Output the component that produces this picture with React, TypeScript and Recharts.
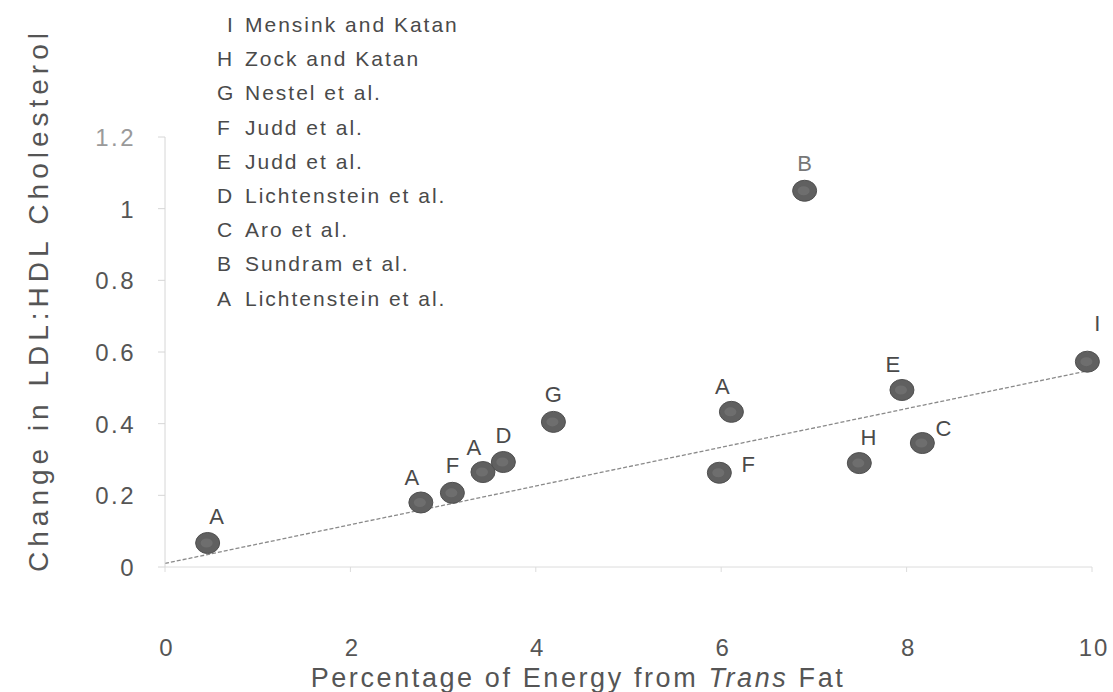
import { ScatterChart, Scatter, XAxis, YAxis, ReferenceLine, Legend } from 'recharts'

// study code for each point, in x order
const studyCodes = ['A', 'A', 'F', 'A', 'D', 'G', 'F', 'A', 'B', 'H', 'E', 'C', 'I']
const transEnergy = [0.46, 2.76, 3.1, 3.43, 3.65, 4.19, 5.98, 6.11, 6.9, 7.49, 7.95, 8.17, 9.95]
const ldlHdlChange = [0.067, 0.18, 0.207, 0.265, 0.293, 0.405, 0.263, 0.433, 1.05, 0.29, 0.494, 0.346, 0.573]
const labelSide = ['topRight', 'topLeft', 'top', 'topLeft', 'top', 'top', 'right', 'topLeft', 'top', 'topRight', 'topLeft', 'upRight', 'highRight']

// regression line end points
const trendX = [0, 10]
const trendY = [0.01, 0.55]

const legendCodes = ['I', 'H', 'G', 'F', 'E', 'D', 'C', 'B', 'A']
const legendNames = [
  'Mensink and Katan',
  'Zock and Katan',
  'Nestel et al.',
  'Judd et al.',
  'Judd et al.',
  'Lichtenstein et al.',
  'Aro et al.',
  'Sundram et al.',
  'Lichtenstein et al.',
]

const xTicks = [0, 2, 4, 6, 8, 10]
const yTicks = [0, 0.2, 0.4, 0.6, 0.8, 1, 1.2]

const FONT = '"Liberation Sans", Arial, sans-serif'
const TEXT = '#4a4a4a'

const data = studyCodes.map((code, i) => ({
  code,
  x: transEnergy[i],
  y: ldlHdlChange[i],
  side: labelSide[i],
}))

const offsets: Record<string, [number, number]> = {
  top: [0, -27],
  topLeft: [-9, -25],
  topRight: [9, -26],
  right: [29, -8],
  upRight: [21, -15],
  highRight: [10, -38],
}

function Dot(props: any) {
  const { cx, cy, payload } = props
  const [dx, dy] = offsets[payload.side] || [0, -27]
  return (
    <g>
      <ellipse cx={cx} cy={cy} rx={12} ry={10.5} fill="#606060" stroke="#505050" strokeWidth={1} />
      <ellipse cx={cx - 1} cy={cy} rx={6} ry={4.5} fill="#808080" opacity={0.45} />
      <text
        x={cx + dx}
        y={cy + dy}
        textAnchor="middle"
        dominantBaseline="central"
        fontFamily={FONT}
        fontSize={22}
        fill={payload.code === 'B' ? '#777' : TEXT}
      >
        {payload.code}
      </text>
    </g>
  )
}

function XTick({ x, y, payload }: any) {
  return (
    <text x={x + 2} y={y + 82} textAnchor="middle" fontFamily={FONT} fontSize={24} fill="#555" letterSpacing={2}>
      {payload.value}
    </text>
  )
}

function YTick({ x, y, payload }: any) {
  return (
    <text x={x - 20} y={y + 9} textAnchor="end" fontFamily={FONT} fontSize={24} fill={payload.value === 1.2 ? '#9a9a9a' : '#555'} letterSpacing={2.5}>
      {payload.value}
    </text>
  )
}

function StudyList() {
  return (
    <div style={{ fontFamily: FONT, fontSize: 21, color: TEXT, letterSpacing: 2 }}>
      {legendCodes.map((c, i) => (
        <div key={i} style={{ height: 34.2, lineHeight: '34px', whiteSpace: 'nowrap' }}>
          <span style={{ display: 'inline-block', width: 28, textAlign: c === 'I' ? 'center' : 'left' }}>{c}</span>
          {legendNames[i]}
        </div>
      ))}
    </div>
  )
}

function YTitle() {
  const cx = 38
  const cy = 300
  return (
    <text
      x={cx}
      y={cy}
      transform={`rotate(-90 ${cx} ${cy})`}
      textAnchor="middle"
      dominantBaseline="central"
      fontFamily={FONT}
      fontSize={28}
      fill="#555"
      letterSpacing={5}
    >
      Change in LDL:HDL Cholesterol
    </text>
  )
}

function XTitle() {
  return (
    <text x={578} y={687} textAnchor="middle" fontFamily={FONT} fontSize={27} fill="#555" letterSpacing={2.6}>
      Percentage of Energy from <tspan fontStyle="italic">Trans</tspan> Fat
    </text>
  )
}

export default function App() {
  return (
    <div style={{ position: 'absolute', left: 0, top: 0, width: 1113, height: 692, background: '#fff' }}>
      <ScatterChart width={1113} height={692} margin={{ top: 137, right: 21, bottom: 0, left: 0 }}>
        <XAxis
          type="number"
          dataKey="x"
          domain={[0, 10]}
          ticks={xTicks}
          height={125}
          stroke="#dcdcdc"
          tickSize={5}
          tick={<XTick />}
          label={<XTitle />}
        />
        <YAxis
          type="number"
          dataKey="y"
          domain={[0, 1.2]}
          ticks={yTicks}
          width={165}
          stroke="#d6d6d6"
          tickSize={7}
          tick={<YTick />}
          label={<YTitle />}
        />
        <ReferenceLine
          segment={[
            { x: trendX[0], y: trendY[0] },
            { x: trendX[1], y: trendY[1] },
          ]}
          stroke="#8a8a8a"
          strokeWidth={1.3}
          strokeDasharray="4 2"
          ifOverflow="visible"
        />
        <Scatter data={data} shape={<Dot />} isAnimationActive={false} />
        <Legend
          layout="horizontal"
          verticalAlign="middle"
          align="center"
          content={() => <StudyList />}
          wrapperStyle={{ left: 217, top: 8, width: 'auto', height: 'auto' }}
        />
      </ScatterChart>
    </div>
  )
}
